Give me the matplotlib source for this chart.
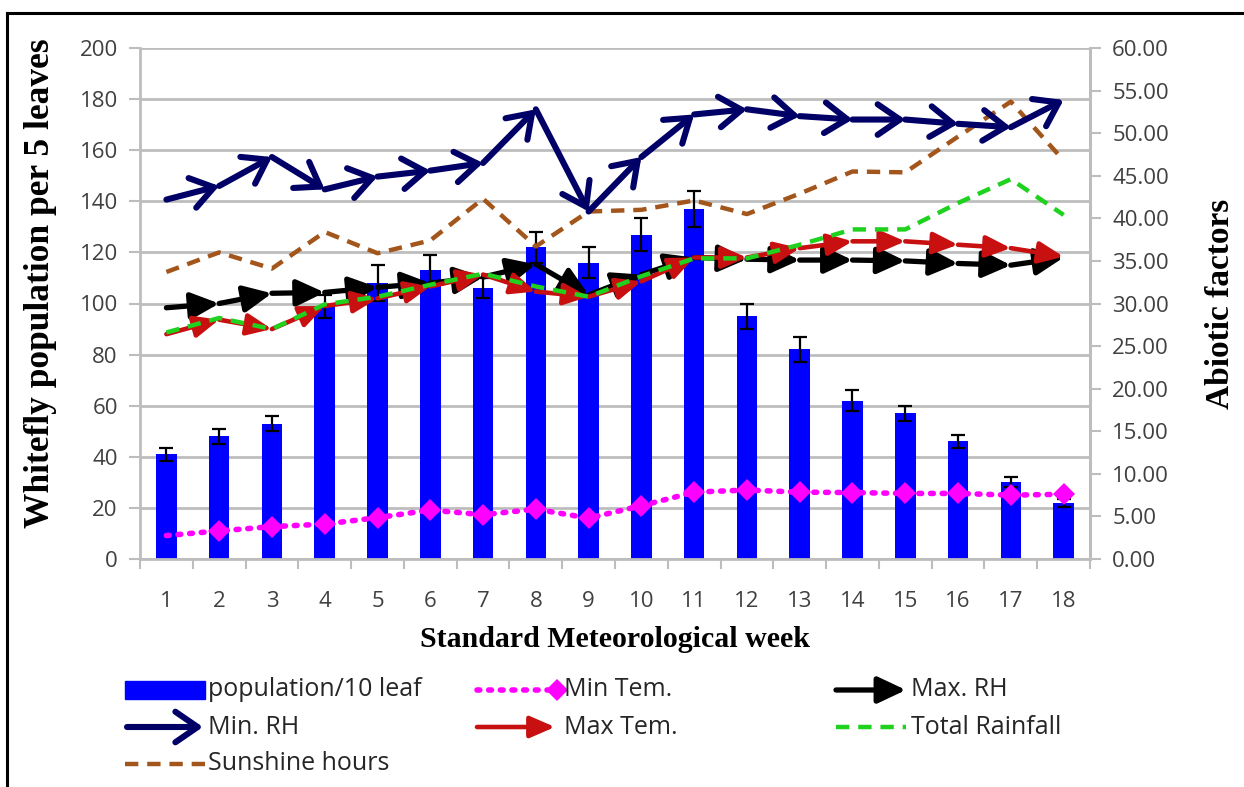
import matplotlib
matplotlib.use("Agg")
import matplotlib.pyplot as plt
from matplotlib.patches import FancyArrowPatch, Rectangle
from matplotlib.lines import Line2D
from matplotlib.ticker import FormatStrFormatter, MultipleLocator, FixedLocator
import numpy as np

# Standard meteorological weeks
weeks = list(range(1, 19))
week_labels = [str(w) for w in weeks]

# Whitefly population (left axis) with standard error
population = [41, 48, 53, 99, 108, 113, 106, 122, 116, 127, 137, 95, 82, 62, 57, 46, 30, 22]
population_err = [2.5, 2.8, 3, 4.5, 7, 6, 4, 6, 6, 6.5, 7, 5, 5, 4, 3, 2.5, 2, 1.5]

# Abiotic factors (right axis)
min_tem = [2.75, 3.3, 3.8, 4.1, 4.85, 5.75, 5.2, 5.85, 4.8, 6.25, 7.85, 8.1, 7.85, 7.8, 7.7, 7.7, 7.5, 7.6]
max_rh = [29.5, 30.0, 31.2, 31.3, 31.9, 32.4, 33.1, 34.6, 31.0, 33.4, 35.4, 35.2, 35.1, 35.1, 35.0, 34.7, 34.5, 35.4]
min_rh = [42.2, 43.8, 47.2, 43.4, 44.9, 45.6, 46.5, 52.8, 40.8, 47.2, 52.2, 52.8, 52.0, 51.6, 51.6, 51.1, 50.7, 53.9]
max_tem = [26.4, 28.1, 27.0, 29.7, 30.6, 32.0, 33.4, 31.4, 30.8, 32.6, 35.4, 35.4, 36.5, 37.3, 37.3, 36.9, 36.5, 35.5]
rainfall = [26.6, 28.3, 27.0, 29.9, 30.8, 32.2, 33.5, 32.0, 30.8, 33.2, 35.3, 35.3, 36.9, 38.7, 38.7, 41.8, 44.6, 40.4]
sunshine = [33.7, 36.0, 34.1, 38.4, 35.9, 37.4, 42.3, 36.7, 40.8, 41.0, 42.1, 40.5, 42.9, 45.5, 45.4, 49.6, 53.7, 46.8]

BLUE = "#0000ff"
MAGENTA = "#ff00ff"
BLACK = "#000000"
NAVY = "#000066"
RED = "#c81010"
GREEN = "#1ed21e"
BROWN = "#a3561c"
GRID = "#bdbdbd"
TICKC = "#404040"

tick_font = "Open Sans"
label_font = "Liberation Serif"

# arrow styles for the RH / temperature series
STYLE_MAXRH = "-|>,head_length=1.7,head_width=0.8"
STYLE_MINRH = "->,head_length=1.6,head_width=1.1"
STYLE_MAXTEM = "-|>,head_length=1.5,head_width=0.65"

W, H = 1244, 787
fig = plt.figure(figsize=(W / 100, H / 100), dpi=100)
L, R, T, B = 140, 1090, 48, 559
ax = fig.add_axes([L / W, 1 - B / H, (R - L) / W, (B - T) / H])
ax2 = ax.twinx()

# --- bars on the population axis
ax.bar(weeks, population, width=0.39, color=BLUE, zorder=2)
ax.errorbar(weeks, population, yerr=population_err, fmt="none", ecolor="black",
            elinewidth=1.6, capsize=5, capthick=1.6, zorder=3)

ax.set_xlim(0.5, 18.5)
ax.set_ylim(0, 200)
ax.yaxis.set_major_locator(MultipleLocator(20))
ax.set_xticks(weeks)
ax.set_xticklabels(week_labels)
ax.xaxis.set_minor_locator(FixedLocator(np.arange(0.5, 19, 1)))
ax.tick_params(axis="x", which="major", length=0, pad=23, labelsize=16, labelcolor=TICKC)
ax.tick_params(axis="x", which="minor", length=7, width=1.5, color=GRID, direction="out")
ax.tick_params(axis="y", length=8, width=1.5, color=GRID, direction="out", pad=8,
               labelsize=16, labelcolor=TICKC)
for lab in ax.get_xticklabels() + ax.get_yticklabels():
    lab.set_family(tick_font)
ax.grid(axis="y", color=GRID, lw=2, zorder=0)
ax.set_axisbelow(True)
for s in ["left", "bottom", "right", "top"]:
    ax.spines[s].set_color(GRID)
    ax.spines[s].set_linewidth(2)
ax.spines["top"].set_visible(False)

ax.set_ylabel("Whitefly population per 5 leaves", fontfamily=label_font,
              fontweight="bold", fontsize=25.5)
ax.yaxis.set_label_coords(-0.087, 0.54)
ax.set_xlabel("Standard Meteorological week", fontfamily=label_font,
              fontweight="bold", fontsize=21.5, labelpad=10)

# --- abiotic factors on the secondary axis
ax2.set_ylim(0, 60)
ax2.yaxis.set_major_locator(MultipleLocator(5))
ax2.yaxis.set_major_formatter(FormatStrFormatter("%.2f"))
ax2.tick_params(axis="y", length=8, width=1.5, color=GRID, direction="out", pad=8,
                labelsize=16, labelcolor=TICKC)
for lab in ax2.get_yticklabels():
    lab.set_family(tick_font)
for s in ["left", "bottom", "right", "top"]:
    ax2.spines[s].set_visible(False)
ax2.spines["right"].set_visible(True)
ax2.spines["right"].set_color(GRID)
ax2.spines["right"].set_linewidth(2)
ax2.set_ylabel("Abiotic factors", fontfamily=label_font, fontweight="bold",
               fontsize=24, labelpad=26)


def arrow_series(axis, xs, ys, color, lw, style, z):
    for i in range(len(xs) - 1):
        axis.add_patch(FancyArrowPatch((xs[i], ys[i]), (xs[i + 1], ys[i + 1]),
                                       arrowstyle=style, color=color, lw=lw,
                                       mutation_scale=10, shrinkA=0, shrinkB=0,
                                       capstyle="round", joinstyle="round", zorder=z))


# Sunshine hours
ax2.plot(weeks, sunshine, color=BROWN, lw=3.2, dashes=(3, 2.0), zorder=3)
# Min temperature: dotted with diamond ends
ax2.plot(weeks, min_tem, color=MAGENTA, lw=4.0, dashes=(0.5, 1.6),
         dash_capstyle="round", marker="D", markersize=11, markevery=list(range(1, 18)),
         markeredgewidth=0, zorder=4)
# Max RH
arrow_series(ax2, weeks, max_rh, BLACK, 3.8, STYLE_MAXRH, 5)
# Min RH
arrow_series(ax2, weeks, min_rh, NAVY, 4.4, STYLE_MINRH, 6)
# Max temperature
arrow_series(ax2, weeks, max_tem, RED, 3.3, STYLE_MAXTEM, 7)
# Total rainfall
ax2.plot(weeks, rainfall, color=GREEN, lw=3.2, dashes=(3, 2.0), zorder=8)

ax.set_zorder(1)
ax2.set_zorder(2)
ax2.patch.set_visible(False)

# --- legend drawn in figure pixel space
lg = fig.add_axes([0, 0, 1, 1])
lg.set_xlim(0, W)
lg.set_ylim(H, 0)
lg.axis("off")
lg.patch.set_visible(False)

leg_font = dict(fontfamily=tick_font, fontsize=18, color="#262626", va="center", ha="left")
r1, r2, r3 = 690, 727, 764
c1, c2, c3 = 125, 477, 836
hw = 80

lg.add_patch(Rectangle((c1, r1 - 9), hw, 18, color=BLUE))
lg.text(c1 + hw + 3, r1, "population/10 leaf", **leg_font)

lg.plot([c2, c2 + 78], [r1, r1], color=MAGENTA, lw=4.0, dashes=(0.5, 1.6),
        dash_capstyle="round")
lg.plot([c2 + 80], [r1], marker="D", color=MAGENTA, markersize=11, markeredgewidth=0)
lg.text(c2 + 87, r1, "Min Tem.", **leg_font)

lg.add_patch(FancyArrowPatch((c3, r1), (c3 + 70, r1), arrowstyle=STYLE_MAXRH,
                             color=BLACK, lw=3.8, mutation_scale=10, shrinkA=0, shrinkB=0,
                             capstyle="round"))
lg.text(c3 + 75, r1, "Max. RH", **leg_font)

lg.add_patch(FancyArrowPatch((c1 + 2, r2), (c1 + 78, r2), arrowstyle=STYLE_MINRH,
                             color=NAVY, lw=4.4, mutation_scale=10, shrinkA=0, shrinkB=0,
                             capstyle="round", joinstyle="round"))
lg.text(c1 + hw + 3, r2, "Min. RH", **leg_font)

lg.add_patch(FancyArrowPatch((c2, r2), (c2 + 78, r2), arrowstyle=STYLE_MAXTEM,
                             color=RED, lw=3.3, mutation_scale=10, shrinkA=0, shrinkB=0,
                             capstyle="round"))
lg.text(c2 + 87, r2, "Max Tem.", **leg_font)

lg.plot([c3, c3 + 70], [r2, r2], color=GREEN, lw=3.2, dashes=(3, 2.0))
lg.text(c3 + 75, r2, "Total Rainfall", **leg_font)

lg.plot([c1, c1 + hw], [r3, r3], color=BROWN, lw=3.2, dashes=(3, 2.0))
lg.text(c1 + hw + 3, r3, "Sunshine hours", **leg_font)

# outer frame edges
lg.add_line(Line2D([7, W], [13, 13], color="black", lw=2.2))
lg.add_line(Line2D([7, 7], [13, H], color="black", lw=2.2))

fig.savefig("out.png", dpi=100)
